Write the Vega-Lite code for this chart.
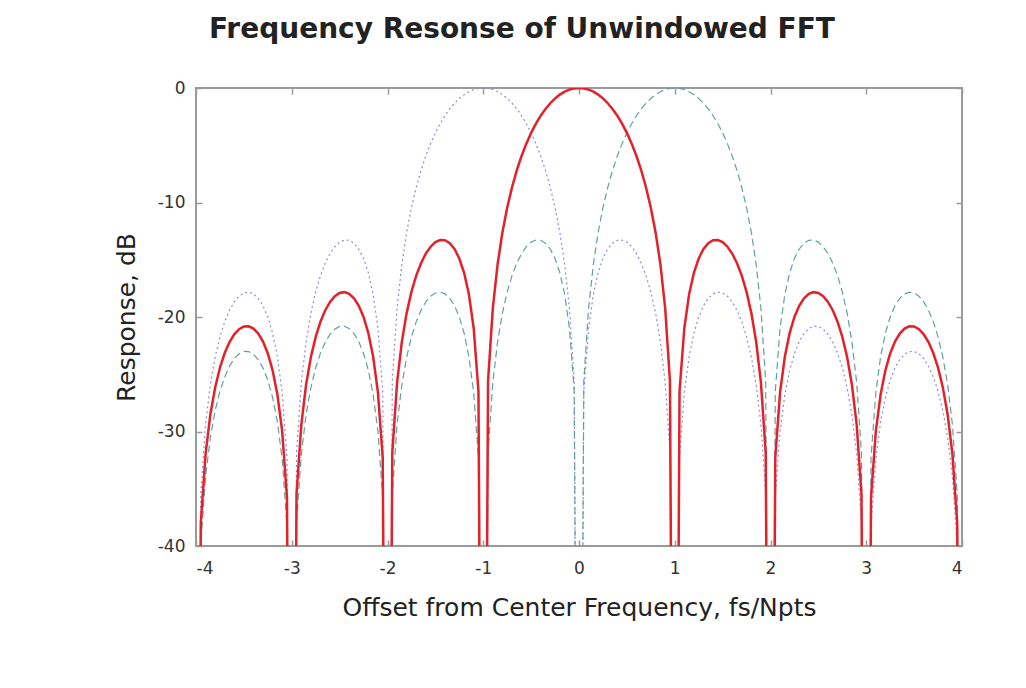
{
  "$schema": "https://vega.github.io/schema/vega-lite/v6.json",
  "autosize": {"type": "none"},
  "padding": {"left": 196, "top": 88, "right": 64, "bottom": 142},
  "width": 766,
  "height": 458,
  "background": "white",
  "config": {
    "view": {"stroke": "#9a9a9a", "strokeWidth": 2},
    "font": "DejaVu Sans",
    "axis": {"grid": false, "domain": false, "tickColor": "#9a9a9a", "tickWidth": 1.5, "tickSize": -6,
             "labelFont": "DejaVu Sans", "labelFontSize": 17, "labelColor": "#333333", "labelExpr": "'' + datum.value",
             "titleFont": "DejaVu Sans", "titleFontSize": 25, "titleFontWeight": "normal", "titleColor": "#222222"}
  },
  "title": {"text": "Frequency Resonse of Unwindowed FFT", "font": "DejaVu Sans", "fontSize": 28, "fontWeight": "bold",
            "color": "#222222", "anchor": "middle", "dx": -57, "offset": 35, "frame": "group"},
  "data": {"values": [
    {"x":-4.00,"r":-100,"b":-100,"g":-100},
    {"x":-3.95,"r":-37.99,"b":-35.45,"g":-39.95},
    {"x":-3.90,"r":-31.97,"b":-29.39,"g":-33.95},
    {"x":-3.85,"r":-28.51,"b":-25.90,"g":-30.52},
    {"x":-3.80,"r":-26.16,"b":-23.50,"g":-28.18},
    {"x":-3.75,"r":-24.43,"b":-21.74,"g":-26.49},
    {"x":-3.70,"r":-23.15,"b":-20.41,"g":-25.23},
    {"x":-3.65,"r":-22.19,"b":-19.41,"g":-24.29},
    {"x":-3.60,"r":-21.51,"b":-18.68,"g":-23.63},
    {"x":-3.55,"r":-21.06,"b":-18.18,"g":-23.21},
    {"x":-3.50,"r":-20.82,"b":-17.90,"g":-23.01},
    {"x":-3.45,"r":-20.81,"b":-17.83,"g":-23.02},
    {"x":-3.40,"r":-21.01,"b":-17.98,"g":-23.25},
    {"x":-3.35,"r":-21.45,"b":-18.37,"g":-23.72},
    {"x":-3.30,"r":-22.15,"b":-19.02,"g":-24.45},
    {"x":-3.25,"r":-23.19,"b":-20.00,"g":-25.52},
    {"x":-3.20,"r":-24.66,"b":-21.41,"g":-27.02},
    {"x":-3.15,"r":-26.77,"b":-23.45,"g":-29.16},
    {"x":-3.10,"r":-29.97,"b":-26.59,"g":-32.40},
    {"x":-3.05,"r":-35.74,"b":-32.29,"g":-38.21},
    {"x":-3.00,"r":-100,"b":-100,"g":-100},
    {"x":-2.95,"r":-35.45,"b":-31.86,"g":-37.99},
    {"x":-2.90,"r":-29.39,"b":-25.72,"g":-31.97},
    {"x":-2.85,"r":-25.90,"b":-22.15,"g":-28.51},
    {"x":-2.80,"r":-23.50,"b":-19.66,"g":-26.16},
    {"x":-2.75,"r":-21.74,"b":-17.81,"g":-24.43},
    {"x":-2.70,"r":-20.41,"b":-16.39,"g":-23.15},
    {"x":-2.65,"r":-19.41,"b":-15.30,"g":-22.19},
    {"x":-2.60,"r":-18.68,"b":-14.46,"g":-21.51},
    {"x":-2.55,"r":-18.18,"b":-13.86,"g":-21.06},
    {"x":-2.50,"r":-17.90,"b":-13.46,"g":-20.82},
    {"x":-2.45,"r":-17.83,"b":-13.28,"g":-20.81},
    {"x":-2.40,"r":-17.98,"b":-13.30,"g":-21.01},
    {"x":-2.35,"r":-18.37,"b":-13.55,"g":-21.45},
    {"x":-2.30,"r":-19.02,"b":-14.06,"g":-22.15},
    {"x":-2.25,"r":-20.00,"b":-14.89,"g":-23.19},
    {"x":-2.20,"r":-21.41,"b":-16.14,"g":-24.66},
    {"x":-2.15,"r":-23.45,"b":-18.02,"g":-26.77},
    {"x":-2.10,"r":-26.59,"b":-20.97,"g":-29.97},
    {"x":-2.05,"r":-32.29,"b":-26.48,"g":-35.74},
    {"x":-2.00,"r":-100,"b":-100,"g":-100},
    {"x":-1.95,"r":-31.86,"b":-25.61,"g":-35.45},
    {"x":-1.90,"r":-25.72,"b":-19.23,"g":-29.39},
    {"x":-1.85,"r":-22.15,"b":-15.39,"g":-25.90},
    {"x":-1.80,"r":-19.66,"b":-12.62,"g":-23.50},
    {"x":-1.75,"r":-17.81,"b":-10.45,"g":-21.74},
    {"x":-1.70,"r":-16.39,"b":-8.69,"g":-20.41},
    {"x":-1.65,"r":-15.30,"b":-7.20,"g":-19.41},
    {"x":-1.60,"r":-14.46,"b":-5.94,"g":-18.68},
    {"x":-1.55,"r":-13.86,"b":-4.86,"g":-18.18},
    {"x":-1.50,"r":-13.46,"b":-3.92,"g":-17.90},
    {"x":-1.45,"r":-13.28,"b":-3.12,"g":-17.83},
    {"x":-1.40,"r":-13.30,"b":-2.42,"g":-17.98},
    {"x":-1.35,"r":-13.55,"b":-1.83,"g":-18.37},
    {"x":-1.30,"r":-14.06,"b":-1.33,"g":-19.02},
    {"x":-1.25,"r":-14.89,"b":-0.91,"g":-20.00},
    {"x":-1.20,"r":-16.14,"b":-0.58,"g":-21.41},
    {"x":-1.15,"r":-18.02,"b":-0.32,"g":-23.45},
    {"x":-1.10,"r":-20.97,"b":-0.14,"g":-26.59},
    {"x":-1.05,"r":-26.48,"b":-0.04,"g":-32.29},
    {"x":-1.00,"r":-100,"b":0,"g":-100},
    {"x":-0.95,"r":-25.61,"b":-0.04,"g":-31.86},
    {"x":-0.90,"r":-19.23,"b":-0.14,"g":-25.72},
    {"x":-0.85,"r":-15.39,"b":-0.32,"g":-22.15},
    {"x":-0.80,"r":-12.62,"b":-0.58,"g":-19.66},
    {"x":-0.75,"r":-10.45,"b":-0.91,"g":-17.81},
    {"x":-0.70,"r":-8.69,"b":-1.33,"g":-16.39},
    {"x":-0.65,"r":-7.20,"b":-1.83,"g":-15.30},
    {"x":-0.60,"r":-5.94,"b":-2.42,"g":-14.46},
    {"x":-0.55,"r":-4.86,"b":-3.12,"g":-13.86},
    {"x":-0.50,"r":-3.92,"b":-3.92,"g":-13.46},
    {"x":-0.45,"r":-3.12,"b":-4.86,"g":-13.28},
    {"x":-0.40,"r":-2.42,"b":-5.94,"g":-13.30},
    {"x":-0.35,"r":-1.83,"b":-7.20,"g":-13.55},
    {"x":-0.30,"r":-1.33,"b":-8.69,"g":-14.06},
    {"x":-0.25,"r":-0.91,"b":-10.45,"g":-14.89},
    {"x":-0.20,"r":-0.58,"b":-12.62,"g":-16.14},
    {"x":-0.15,"r":-0.32,"b":-15.39,"g":-18.02},
    {"x":-0.10,"r":-0.14,"b":-19.23,"g":-20.97},
    {"x":-0.05,"r":-0.04,"b":-25.61,"g":-26.48},
    {"x":0.00,"r":0,"b":-100,"g":-100},
    {"x":0.05,"r":-0.04,"b":-26.48,"g":-25.61},
    {"x":0.10,"r":-0.14,"b":-20.97,"g":-19.23},
    {"x":0.15,"r":-0.32,"b":-18.02,"g":-15.39},
    {"x":0.20,"r":-0.58,"b":-16.14,"g":-12.62},
    {"x":0.25,"r":-0.91,"b":-14.89,"g":-10.45},
    {"x":0.30,"r":-1.33,"b":-14.06,"g":-8.69},
    {"x":0.35,"r":-1.83,"b":-13.55,"g":-7.20},
    {"x":0.40,"r":-2.42,"b":-13.30,"g":-5.94},
    {"x":0.45,"r":-3.12,"b":-13.28,"g":-4.86},
    {"x":0.50,"r":-3.92,"b":-13.46,"g":-3.92},
    {"x":0.55,"r":-4.86,"b":-13.86,"g":-3.12},
    {"x":0.60,"r":-5.94,"b":-14.46,"g":-2.42},
    {"x":0.65,"r":-7.20,"b":-15.30,"g":-1.83},
    {"x":0.70,"r":-8.69,"b":-16.39,"g":-1.33},
    {"x":0.75,"r":-10.45,"b":-17.81,"g":-0.91},
    {"x":0.80,"r":-12.62,"b":-19.66,"g":-0.58},
    {"x":0.85,"r":-15.39,"b":-22.15,"g":-0.32},
    {"x":0.90,"r":-19.23,"b":-25.72,"g":-0.14},
    {"x":0.95,"r":-25.61,"b":-31.86,"g":-0.04},
    {"x":1.00,"r":-100,"b":-100,"g":0},
    {"x":1.05,"r":-26.48,"b":-32.29,"g":-0.04},
    {"x":1.10,"r":-20.97,"b":-26.59,"g":-0.14},
    {"x":1.15,"r":-18.02,"b":-23.45,"g":-0.32},
    {"x":1.20,"r":-16.14,"b":-21.41,"g":-0.58},
    {"x":1.25,"r":-14.89,"b":-20.00,"g":-0.91},
    {"x":1.30,"r":-14.06,"b":-19.02,"g":-1.33},
    {"x":1.35,"r":-13.55,"b":-18.37,"g":-1.83},
    {"x":1.40,"r":-13.30,"b":-17.98,"g":-2.42},
    {"x":1.45,"r":-13.28,"b":-17.83,"g":-3.12},
    {"x":1.50,"r":-13.46,"b":-17.90,"g":-3.92},
    {"x":1.55,"r":-13.86,"b":-18.18,"g":-4.86},
    {"x":1.60,"r":-14.46,"b":-18.68,"g":-5.94},
    {"x":1.65,"r":-15.30,"b":-19.41,"g":-7.20},
    {"x":1.70,"r":-16.39,"b":-20.41,"g":-8.69},
    {"x":1.75,"r":-17.81,"b":-21.74,"g":-10.45},
    {"x":1.80,"r":-19.66,"b":-23.50,"g":-12.62},
    {"x":1.85,"r":-22.15,"b":-25.90,"g":-15.39},
    {"x":1.90,"r":-25.72,"b":-29.39,"g":-19.23},
    {"x":1.95,"r":-31.86,"b":-35.45,"g":-25.61},
    {"x":2.00,"r":-100,"b":-100,"g":-100},
    {"x":2.05,"r":-32.29,"b":-35.74,"g":-26.48},
    {"x":2.10,"r":-26.59,"b":-29.97,"g":-20.97},
    {"x":2.15,"r":-23.45,"b":-26.77,"g":-18.02},
    {"x":2.20,"r":-21.41,"b":-24.66,"g":-16.14},
    {"x":2.25,"r":-20.00,"b":-23.19,"g":-14.89},
    {"x":2.30,"r":-19.02,"b":-22.15,"g":-14.06},
    {"x":2.35,"r":-18.37,"b":-21.45,"g":-13.55},
    {"x":2.40,"r":-17.98,"b":-21.01,"g":-13.30},
    {"x":2.45,"r":-17.83,"b":-20.81,"g":-13.28},
    {"x":2.50,"r":-17.90,"b":-20.82,"g":-13.46},
    {"x":2.55,"r":-18.18,"b":-21.06,"g":-13.86},
    {"x":2.60,"r":-18.68,"b":-21.51,"g":-14.46},
    {"x":2.65,"r":-19.41,"b":-22.19,"g":-15.30},
    {"x":2.70,"r":-20.41,"b":-23.15,"g":-16.39},
    {"x":2.75,"r":-21.74,"b":-24.43,"g":-17.81},
    {"x":2.80,"r":-23.50,"b":-26.16,"g":-19.66},
    {"x":2.85,"r":-25.90,"b":-28.51,"g":-22.15},
    {"x":2.90,"r":-29.39,"b":-31.97,"g":-25.72},
    {"x":2.95,"r":-35.45,"b":-37.99,"g":-31.86},
    {"x":3.00,"r":-100,"b":-100,"g":-100},
    {"x":3.05,"r":-35.74,"b":-38.21,"g":-32.29},
    {"x":3.10,"r":-29.97,"b":-32.40,"g":-26.59},
    {"x":3.15,"r":-26.77,"b":-29.16,"g":-23.45},
    {"x":3.20,"r":-24.66,"b":-27.02,"g":-21.41},
    {"x":3.25,"r":-23.19,"b":-25.52,"g":-20.00},
    {"x":3.30,"r":-22.15,"b":-24.45,"g":-19.02},
    {"x":3.35,"r":-21.45,"b":-23.72,"g":-18.37},
    {"x":3.40,"r":-21.01,"b":-23.25,"g":-17.98},
    {"x":3.45,"r":-20.81,"b":-23.02,"g":-17.83},
    {"x":3.50,"r":-20.82,"b":-23.01,"g":-17.90},
    {"x":3.55,"r":-21.06,"b":-23.21,"g":-18.18},
    {"x":3.60,"r":-21.51,"b":-23.63,"g":-18.68},
    {"x":3.65,"r":-22.19,"b":-24.29,"g":-19.41},
    {"x":3.70,"r":-23.15,"b":-25.23,"g":-20.41},
    {"x":3.75,"r":-24.43,"b":-26.49,"g":-21.74},
    {"x":3.80,"r":-26.16,"b":-28.18,"g":-23.50},
    {"x":3.85,"r":-28.51,"b":-30.52,"g":-25.90},
    {"x":3.90,"r":-31.97,"b":-33.95,"g":-29.39},
    {"x":3.95,"r":-37.99,"b":-39.95,"g":-35.45},
    {"x":4.00,"r":-100,"b":-100,"g":-100}
  ]},
  "resolve": {"axis": {"x": "independent", "y": "independent"}},
  "layer": [
    {
      "mark": {"type": "line", "stroke": "#8a8ae2", "strokeWidth": 1.2, "strokeDash": [2, 3], "clip": true},
      "encoding": {
        "x": {"field": "x", "type": "quantitative", "scale": {"domain": [-4, 4], "nice": false, "zero": false},
              "axis": {"orient": "bottom", "values": [-4, -3, -2, -1, 0, 1, 2, 3, 4], "labelPadding": 20,
                       "title": "Offset from Center Frequency, fs/Npts", "titlePadding": 19}},
        "y": {"field": "b", "type": "quantitative", "scale": {"domain": [-40, 0], "nice": false, "zero": false},
              "axis": {"orient": "left", "values": [-40, -30, -20, -10, 0], "labelPadding": 17,
                       "title": "Response, dB", "titlePadding": 18}}
      }
    },
    {
      "mark": {"type": "line", "stroke": "#62a0a0", "strokeWidth": 1.2, "strokeDash": [7, 4], "clip": true},
      "encoding": {
        "x": {"field": "x", "type": "quantitative", "scale": {"domain": [-4, 4], "nice": false, "zero": false},
              "axis": {"orient": "top", "values": [-4, -3, -2, -1, 0, 1, 2, 3, 4], "labels": false, "title": null}},
        "y": {"field": "g", "type": "quantitative", "scale": {"domain": [-40, 0], "nice": false, "zero": false},
              "axis": {"orient": "right", "values": [-40, -30, -20, -10, 0], "labels": false, "title": null}}
      }
    },
    {
      "mark": {"type": "line", "stroke": "#e3212a", "strokeWidth": 2.5, "clip": true},
      "encoding": {
        "x": {"field": "x", "type": "quantitative", "scale": {"domain": [-4, 4], "nice": false, "zero": false}, "axis": null},
        "y": {"field": "r", "type": "quantitative", "scale": {"domain": [-40, 0], "nice": false, "zero": false}, "axis": null}
      }
    }
  ]
}
